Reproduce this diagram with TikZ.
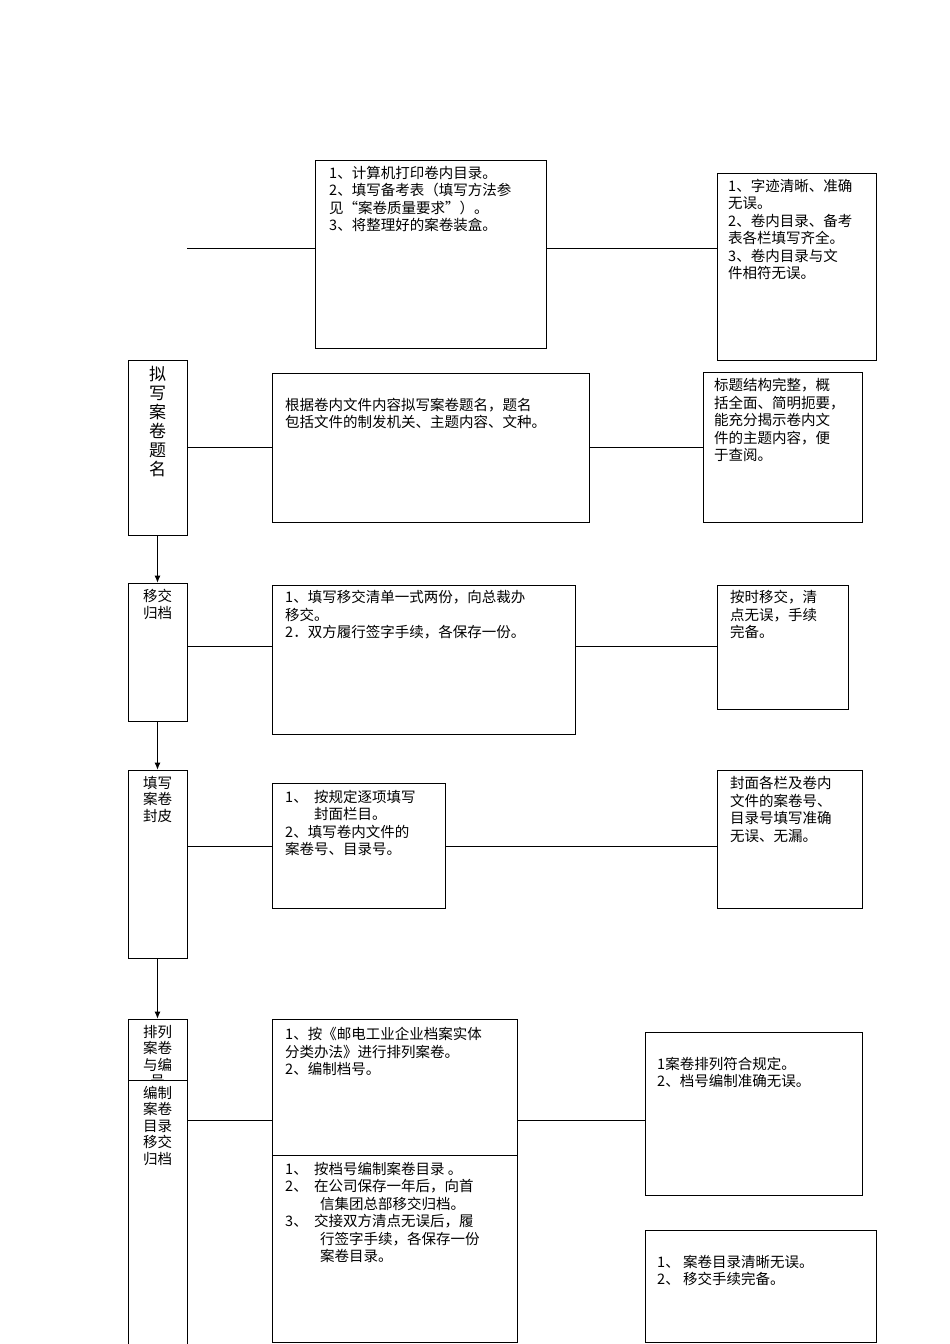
\documentclass[tikz,border=0pt]{standalone}
\usepackage{fontspec}
\usetikzlibrary{arrows.meta}
\newfontfamily\cjk{Noto Sans CJK SC}
\begin{document}
\begin{tikzpicture}[x=1pt,y=-1pt,
  box/.style={draw,line width=0.8pt,inner sep=0pt},
  txt/.style={anchor=north west,align=left,inner sep=0pt,font=\cjk\fontsize{14.5}{17.5}\selectfont},
  ctxt/.style={anchor=north,align=center,inner sep=0pt,font=\cjk\fontsize{14.5}{16.5}\selectfont},
  ln/.style={line width=0.8pt},
  arr/.style={line width=0.8pt,-{Latex[length=7pt,width=6pt]}}]
\useasboundingbox (0,0) rectangle (950,1344);
\newcommand\bx[5]{\node[box,minimum width={(#4-#2)*1pt},minimum height={(#5-#3)*1pt}] (#1) at ({(#2+#4)/2},{(#3+#5)/2}) {};}
% row 1
\coordinate (s1) at (187,248);
\bx{m1}{315}{160}{546}{348}
\bx{r1}{717}{173}{876}{360}
\node[txt] (t1) at (329,166) {1、计算机打印卷内目录。\\2、填写备考表（填写方法参\\见“案卷质量要求”）。\\3、将整理好的案卷装盒。};
\node[txt] (u1) at (728,179) {1、字迹清晰、准确\\无误。\\2、卷内目录、备考\\表各栏填写齐全。\\3、卷内目录与文\\件相符无误。};
\draw[ln] (s1) -- (s1-|m1.west);
\draw[ln] (m1.east|-s1) -- (r1.west|-s1);
% row 2
\bx{l2}{128}{360}{187}{535}
\bx{m2}{272}{373}{589}{522}
\bx{r2}{703}{372}{862}{522}
\node[ctxt,font=\cjk\fontsize{17}{19}\selectfont] (a2) at (157.5,366) {拟\\写\\案\\卷\\题\\名};
\node[txt] (t2) at (285,398) {根据卷内文件内容拟写案卷题名，题名\\包括文件的制发机关、主题内容、文种。};
\node[txt] (u2) at (714,378) {标题结构完整，概\\括全面、简明扼要，\\能充分揭示卷内文\\件的主题内容，便\\于查阅。};
\draw[ln] (l2.east|-0,447) -- (m2.west|-0,447);
\draw[ln] (m2.east|-0,447) -- (r2.west|-0,447);
% row 3
\bx{l3}{128}{583}{187}{721}
\bx{m3}{272}{585}{575}{734}
\bx{r3}{717}{585}{848}{709}
\node[ctxt] (a3) at (157.5,589) {移交\\归档};
\node[txt] (t3) at (285,590) {1、填写移交清单一式两份，向总裁办\\移交。\\2．双方履行签字手续，各保存一份。};
\node[txt] (u3) at (730,590) {按时移交，清\\点无误，手续\\完备。};
\draw[ln] (l3.east|-0,646) -- (m3.west|-0,646);
\draw[ln] (m3.east|-0,646) -- (r3.west|-0,646);
\draw[arr] (l2.south) -- (l3.north);
% row 4
\bx{l4}{128}{770}{187}{958}
\bx{m4}{272}{783}{445}{908}
\bx{r4}{717}{770}{862}{908}
\node[ctxt] (a4) at (157.5,776) {填写\\案卷\\封皮};
\node[txt] (t4) at (285,790) {1、\ \ 按规定逐项填写\\\hspace{2em}封面栏目。\\2、填写卷内文件的\\案卷号、目录号。};
\node[txt] (u4) at (730,776) {封面各栏及卷内\\文件的案卷号、\\目录号填写准确\\无误、无漏。};
\draw[ln] (l4.east|-0,846) -- (m4.west|-0,846);
\draw[ln] (m4.east|-0,846) -- (r4.west|-0,846);
\draw[arr] (l3.south) -- (l4.north);
% row 5
\bx{l5a}{128}{1019}{187}{1080}
\bx{l5b}{128}{1080}{187}{1344}
\bx{m5a}{272}{1019}{517}{1155}
\bx{m5b}{272}{1155}{517}{1342}
\bx{r5a}{645}{1032}{862}{1195}
\bx{r5b}{645}{1230}{876}{1342}
\begin{scope}
\clip (128,1019) rectangle (187,1079);
\node[ctxt] (a5) at (157.5,1025) {排列\\案卷\\与编\\号};
\end{scope}
\node[ctxt] (b5) at (157.5,1086) {编制\\案卷\\目录\\移交\\归档};
\node[txt] (t5) at (285,1027) {1、按《邮电工业企业档案实体\\分类办法》进行排列案卷。\\2、编制档号。};
\node[txt] (t6) at (285,1162) {1、\ \ 按档号编制案卷目录 。\\2、\ \ 在公司保存一年后，向首\\\hspace{2.4em}信集团总部移交归档。\\3、\ \ 交接双方清点无误后，履\\\hspace{2.4em}行签字手续，各保存一份\\\hspace{2.4em}案卷目录。};
\node[txt] (u5) at (657,1057) {1案卷排列符合规定。\\2、档号编制准确无误。};
\node[txt] (u6) at (657,1255) {1、\ 案卷目录清晰无误。\\2、\ 移交手续完备。};
\draw[ln] (l5b.east|-0,1120) -- (m5a.west|-0,1120);
\draw[ln] (m5a.east|-0,1120) -- (r5a.west|-0,1120);
\draw[arr] (l4.south) -- (l5a.north);
\end{tikzpicture}
\end{document}
